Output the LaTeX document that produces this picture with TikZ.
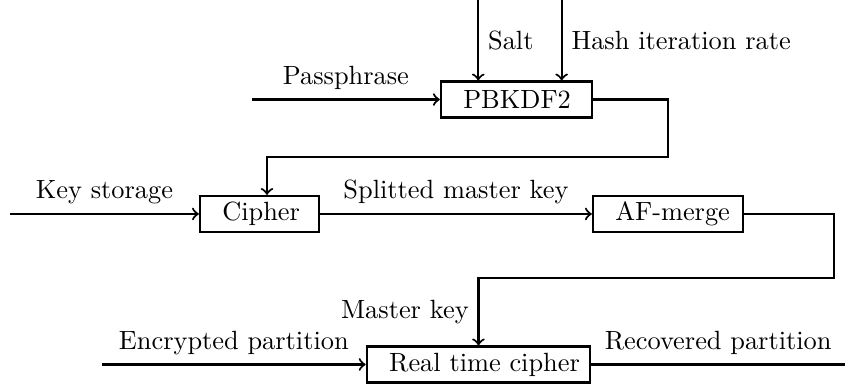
\documentclass[tikz,border=0pt]{standalone}
\usepackage{amssymb}
\usepackage{amsmath}

\newcommand{\boxtext}[2]{\makebox[#1][l]{#2}} % text flush left in a fixed width

\begin{document}
\begin{tikzpicture}[
	blk/.style={draw,thick,minimum height=0.48cm,inner ysep=1pt,inner xsep=8.5pt},
	flow/.style={->,thick}]
	\def\W{11.267}
	\def\H{5.12}
	\def\yc{2.267} % row of cipher and AF-merge
	
	\useasboundingbox (0,0) rectangle (\W,\H);
	
	\node[blk] (pbkdf) at (6.887,3.793) {\boxtext{40.4pt}{PBKDF2}};
	\node[blk] (cipher) at (3.46,\yc) {\boxtext{28.2pt}{Cipher}};
	\node[blk] (afmerge) at (8.907,\yc) {\boxtext{40pt}{AF-merge}};
	\node[blk] (rtc) at (6.38,0.26) {\boxtext{67.8pt}{Real time cipher}};
	
	\coordinate (salt) at (6.377,\H);
	\coordinate (hash) at (7.489,\H);
	\coordinate (pass) at (3.36,3.793);
	\coordinate (keys) at (0.133,\yc);
	\coordinate (encp) at (1.36,0.26);
	\coordinate (recp) at (\W,0.26);
	\coordinate (k1) at (8.907,3.027);
	\coordinate (k2) at (3.56,3.027);
	\coordinate (m1) at (11.12,1.417);
	\coordinate (m2) at (6.38,1.417);
	
	\draw[flow] (salt) -- (salt |- pbkdf.north) node[midway,right] {Salt};
	\draw[flow] (hash) -- (hash |- pbkdf.north) node[midway,right] {Hash iteration rate};
	\draw[flow] (pass) -- (pbkdf.west) node[midway,above] {Passphrase};
	\draw[flow] (pbkdf.east) -| (k1) -- (k2) -- (k2 |- cipher.north);
	\draw[flow] (keys) -- (cipher.west) node[midway,above] {Key storage};
	\draw[flow] (cipher.east) -- (afmerge.west) node[midway,above] {Splitted master key};
	\draw[flow] (afmerge.east) -| (m1) -- (m2) -- (rtc.north) node[midway,left] {Master key};
	\draw[flow] (encp) -- (rtc.west) node[midway,above] {Encrypted partition};
	\draw[thick] (rtc.east) -- (recp) node[midway,above] {Recovered partition};
\end{tikzpicture}
\end{document}
